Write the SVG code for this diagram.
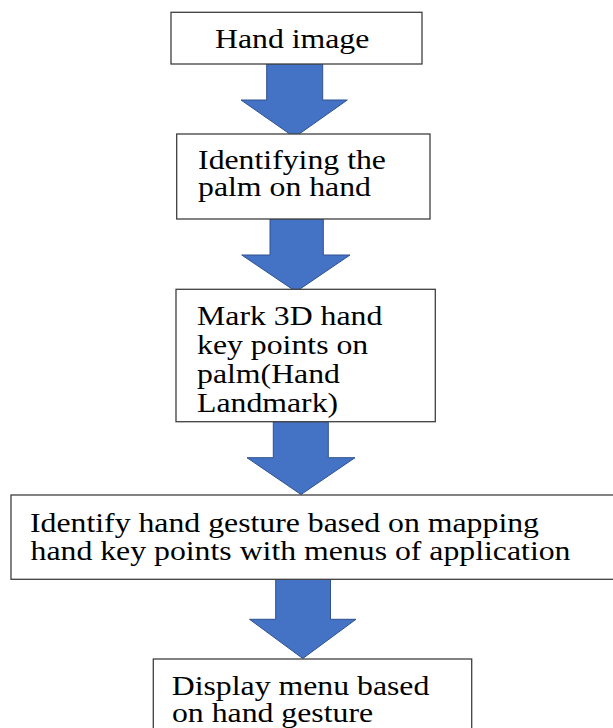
<svg xmlns="http://www.w3.org/2000/svg" width="613" height="728" viewBox="0 0 613 728">
<style>
.box{fill:#ffffff;stroke:#3f3f3f;stroke-width:1.3}
.arr{fill:#4472C4;stroke:#2F528F;stroke-width:1}
.t{font-family:"Liberation Serif","Times New Roman",serif;font-size:28px;fill:#000000}
</style>
<rect width="613" height="728" fill="#ffffff"/>
<g id="connectors">
<polygon class="arr" points="266.7,64 322.7,64 322.7,100 347.3,100 294.5,137.3 241,100 266.7,100"/>
<polygon class="arr" points="270,219 323.3,219 323.3,255 350,255 296,291.7 241.7,255 270,255"/>
<polygon class="arr" points="273.3,421.7 328.3,421.7 328.3,457.7 355,457.7 301,494.5 247,457.7 273.3,457.7"/>
<polygon class="arr" points="275.7,579.3 330.5,579.3 330.5,619.3 356,619.3 302.8,658.5 249.5,619.3 275.7,619.3"/>
</g>
<g id="node1">
<rect class="box" x="171" y="12.3" width="251" height="51.7"/>
<text class="t" transform="scale(1.135,1)" x="189.4" y="48.3">Hand image</text>
</g>
<g id="node2">
<rect class="box" x="176.7" y="134" width="253.3" height="85"/>
<g transform="scale(1.135,1)">
<text class="t" x="174.5" y="169.3">Identifying the</text>
<text class="t" x="174.5" y="196">palm on hand</text>
</g>
</g>
<g id="node3">
<rect class="box" x="176" y="289.3" width="259.3" height="132.4"/>
<g transform="scale(1.135,1)">
<text class="t" x="173.6" y="325.5">Mark 3D hand</text>
<text class="t" x="173.6" y="354.5">key points on</text>
<text class="t" x="173.6" y="383.5">palm(Hand</text>
<text class="t" x="173.6" y="412.5">Landmark)</text>
</g>
</g>
<g id="node4">
<rect class="box" x="11" y="495" width="615" height="84.3"/>
<g transform="scale(1.135,1)">
<text class="t" x="26.4" y="531.7">Identify hand gesture based on mapping</text>
<text class="t" x="26.9" y="560">hand key points with menus of application</text>
</g>
</g>
<g id="node5">
<rect class="box" x="153.3" y="659" width="318.4" height="80"/>
<g transform="scale(1.135,1)">
<text class="t" x="151.3" y="695">Display menu based</text>
<text class="t" x="151.5" y="721.7">on hand gesture</text>
</g>
</g>
</svg>
